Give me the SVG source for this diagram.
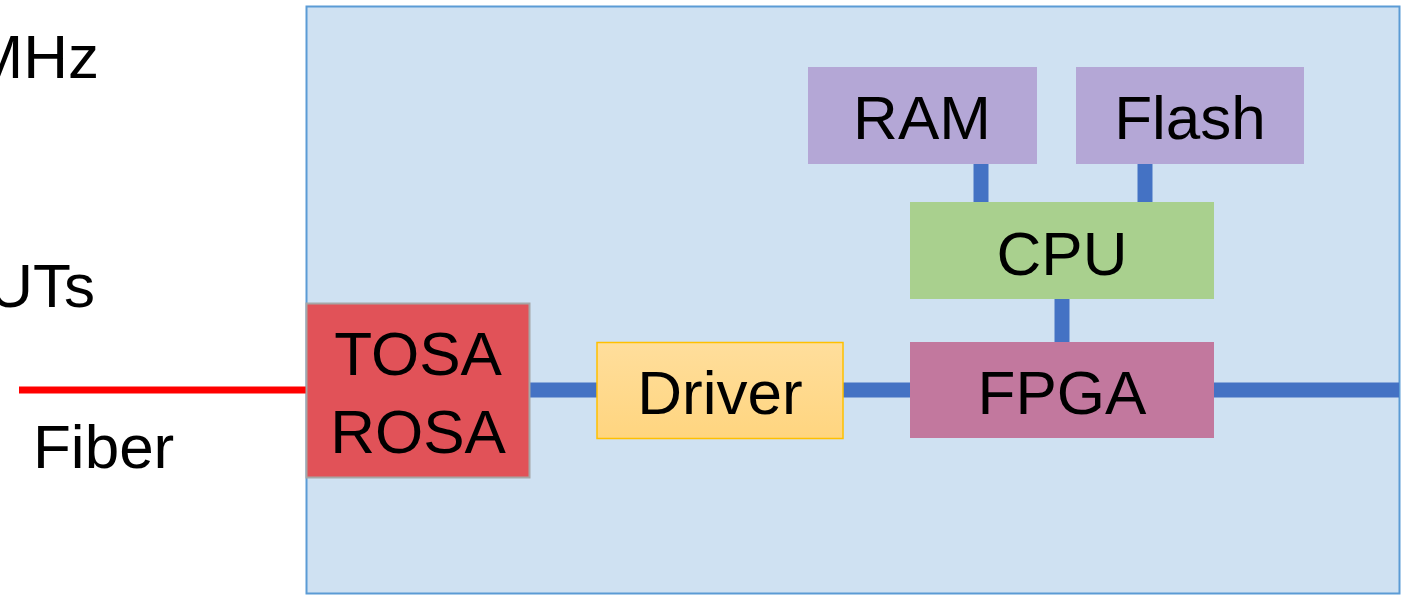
<svg xmlns="http://www.w3.org/2000/svg" width="1410" height="595" viewBox="0 0 1410 595">
<defs>
<linearGradient id="drvGrad" x1="0" y1="0" x2="0" y2="1">
<stop offset="0" stop-color="#FFDE9C"/>
<stop offset="1" stop-color="#FFD57F"/>
</linearGradient>
<style>
text{font-family:"Liberation Sans",Arial,sans-serif;font-size:62px;fill:#000;}
.c{text-anchor:middle;}
.bus{stroke:#4472C4;stroke-width:15;fill:none;}
</style>
</defs>
<rect width="1410" height="595" fill="#FFFFFF"/>
<g id="labels">
<text x="99" y="78" text-anchor="end">MHz</text>
<text x="95" y="307" text-anchor="end">UTs</text>
<text x="33" y="468">Fiber</text>
</g>
<g id="board">
<rect x="306.5" y="6.5" width="1093" height="587" fill="#CFE1F2" stroke="#5B9BD5" stroke-width="2"/>
</g>
<g id="connectors">
<line x1="19" y1="390" x2="307" y2="390" stroke="#FF0000" stroke-width="7"/>
<line class="bus" x1="530" y1="390" x2="597" y2="390"/>
<line class="bus" x1="843" y1="390" x2="910" y2="390"/>
<line class="bus" x1="1213" y1="390" x2="1399" y2="390"/>
<line class="bus" x1="1062" y1="298" x2="1062" y2="343"/>
<line class="bus" x1="981" y1="163" x2="981" y2="203"/>
<line class="bus" x1="1145" y1="163" x2="1145" y2="203"/>
</g>
<g id="tosa">
<rect x="306.5" y="303.5" width="223" height="174" fill="#E15258" stroke="#A6A6A6" stroke-width="2"/>
<text class="c" x="418" y="375">TOSA</text>
<text class="c" x="418" y="453">ROSA</text>
</g>
<g id="driver">
<rect x="597" y="342.5" width="246" height="96" fill="url(#drvGrad)" stroke="#FFC000" stroke-width="1.5"/>
<text class="c" x="720" y="414">Driver</text>
</g>
<g id="fpga">
<rect x="910" y="342" width="304" height="96" fill="#C2789E"/>
<text class="c" x="1062" y="414">FPGA</text>
</g>
<g id="cpu">
<rect x="910" y="202" width="304" height="97" fill="#A9D08E"/>
<text class="c" x="1062" y="275">CPU</text>
</g>
<g id="ram">
<rect x="808" y="67" width="229" height="97" fill="#B4A7D6"/>
<text class="c" x="922" y="139">RAM</text>
</g>
<g id="flash">
<rect x="1076" y="67" width="228" height="97" fill="#B4A7D6"/>
<text class="c" x="1190" y="139">Flash</text>
</g>
</svg>
